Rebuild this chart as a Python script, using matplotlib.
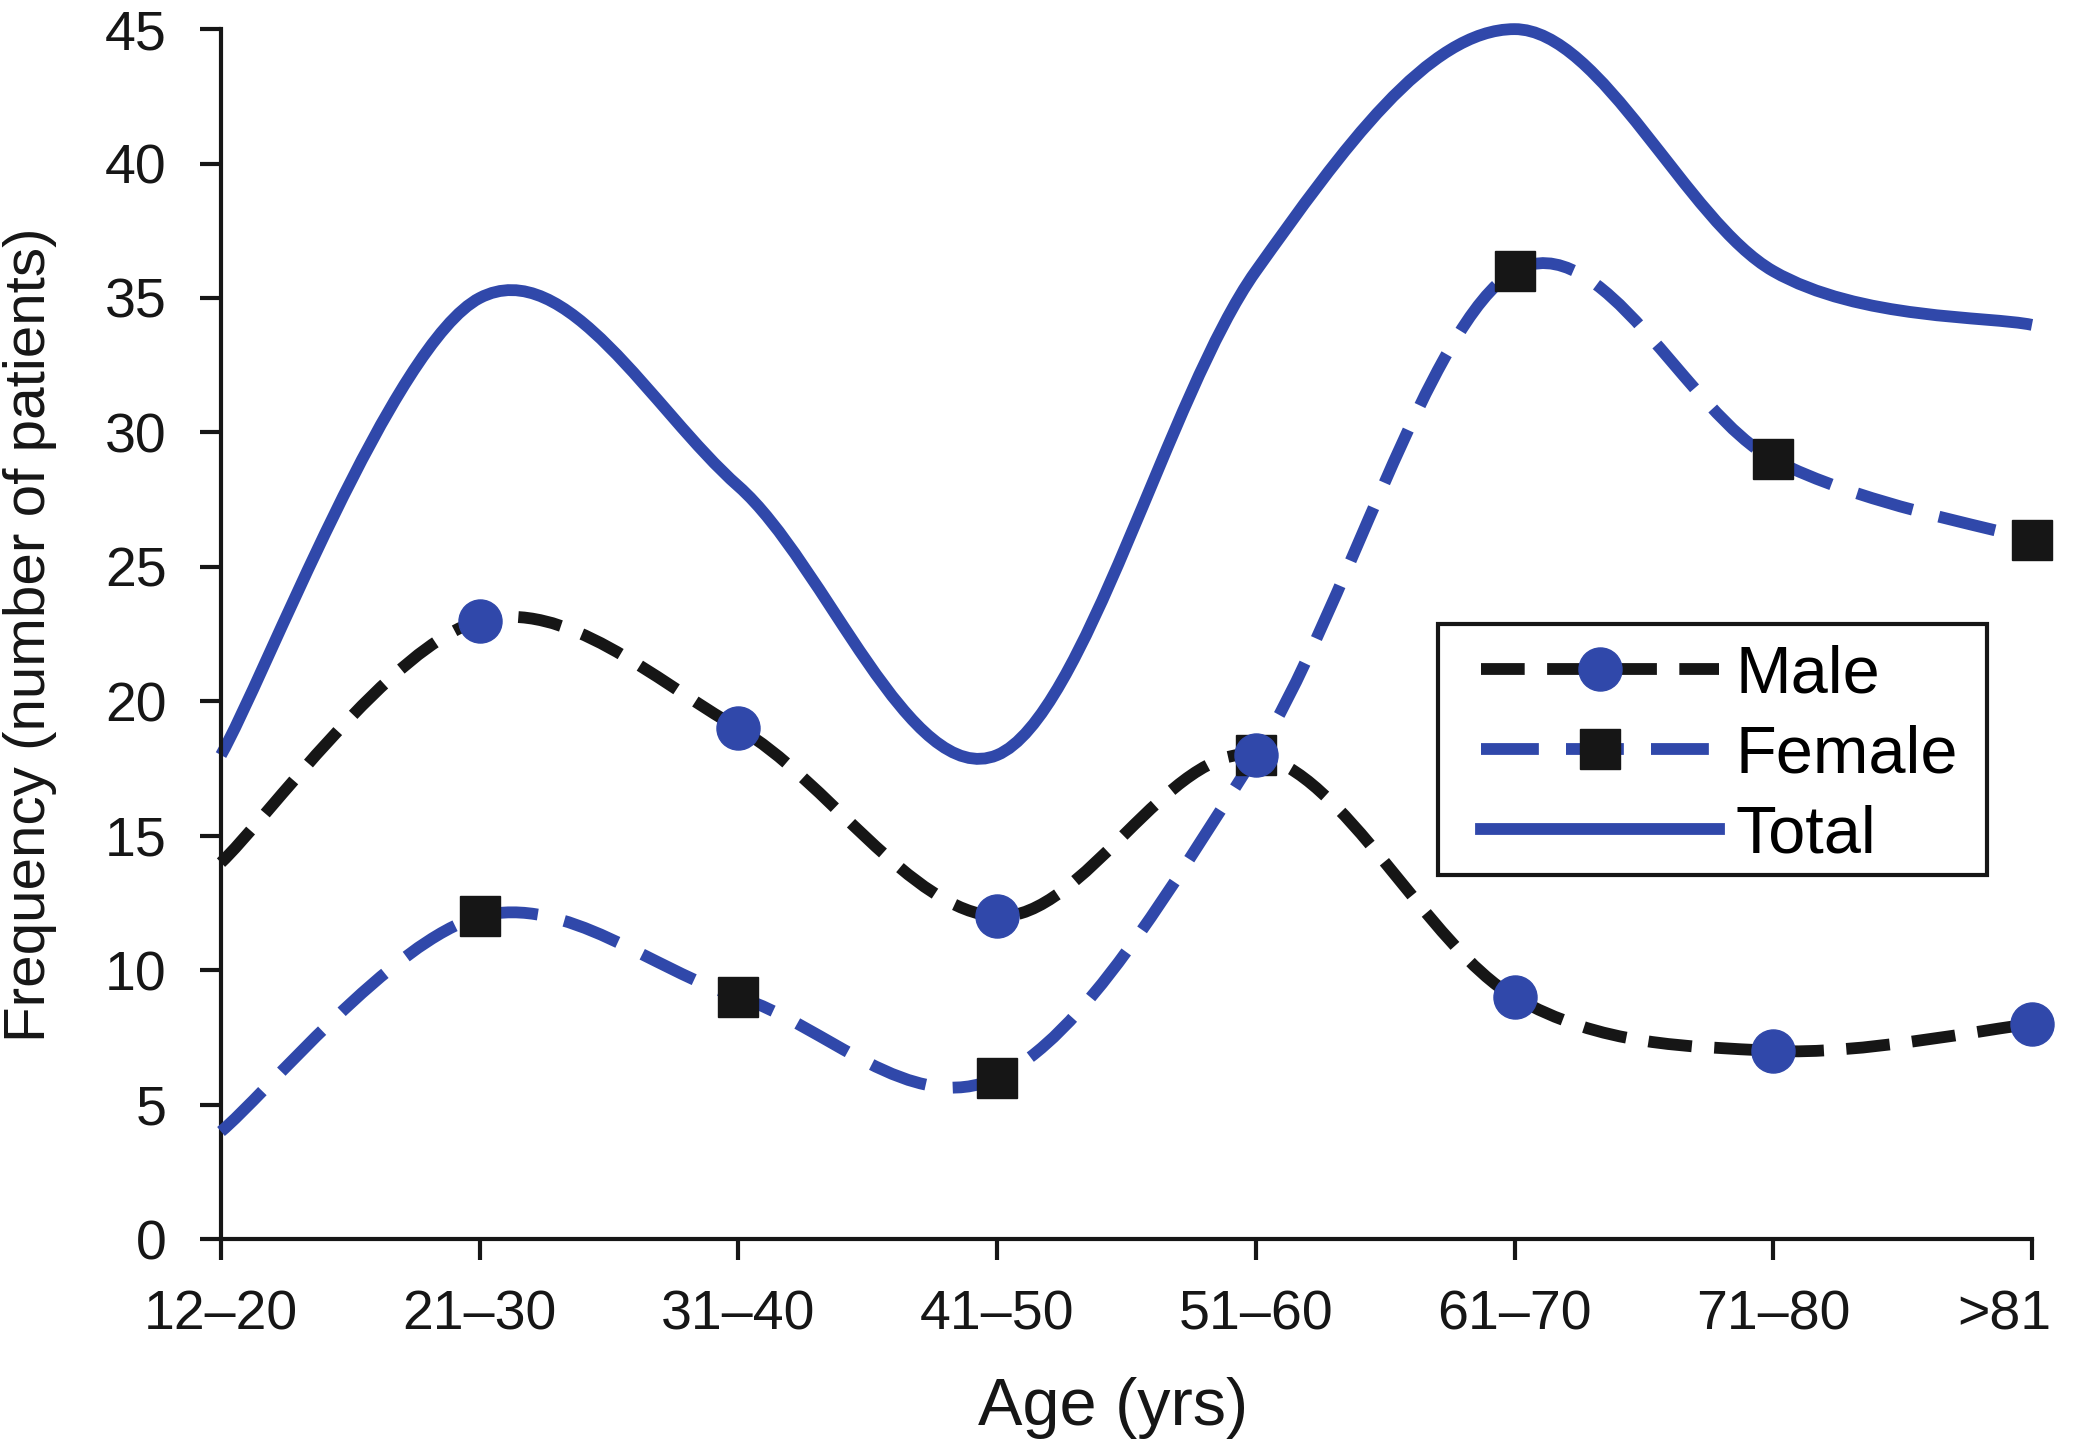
import matplotlib
matplotlib.use("Agg")
import matplotlib.pyplot as plt
import numpy as np
from matplotlib.lines import Line2D
from matplotlib.patches import PathPatch, Rectangle
from matplotlib.path import Path
from matplotlib.transforms import ScaledTranslation

plt.rcParams["font.family"] = ["Liberation Sans", "DejaVu Sans"]

age_groups = ["12\u201320", "21\u201330", "31\u201340", "41\u201350", "51\u201360", "61\u201370", "71\u201380", ">81"]
male = [14, 23, 19, 12, 18, 9, 7, 8]
female = [4, 12, 9, 6, 18, 36, 29, 26]
total = [18, 35, 28, 18, 36, 45, 36, 34]

BLUE = "#3048aa"
BLACK = "#161616"


def smooth_path(y):
    # Catmull-Rom style bezier through the points (like a spreadsheet "smoothed line")
    y = np.asarray(y, dtype=float)
    pts = np.column_stack([np.arange(len(y), dtype=float), y])
    padded = np.vstack([pts[0], pts, pts[-1]])
    verts = [pts[0]]
    codes = [Path.MOVETO]
    for i in range(len(pts) - 1):
        p0, p1, p2, p3 = padded[i], padded[i + 1], padded[i + 2], padded[i + 3]
        verts += [p1 + (p2 - p0) / 6.0, p2 - (p3 - p1) / 6.0, p2]
        codes += [Path.CURVE4] * 3
    return Path(verts, codes)


fig = plt.figure(figsize=(20.73, 14.49), dpi=100)
ax = fig.add_axes([0.1066, 0.1449, 0.8736, 0.835])

lw = 8.5
male_dash = (0, (3.7, 1.9))
female_dash = (0, (4.9, 2.3))

ax.add_patch(PathPatch(smooth_path(total), fill=False, edgecolor=BLUE, lw=lw,
                       capstyle="butt", clip_on=False, zorder=2))
ax.add_patch(PathPatch(smooth_path(female), fill=False, edgecolor=BLUE, lw=lw,
                       linestyle=female_dash, capstyle="butt", clip_on=False, zorder=3))
ax.add_patch(PathPatch(smooth_path(male), fill=False, edgecolor=BLACK, lw=lw,
                       linestyle=male_dash, capstyle="butt", clip_on=False, zorder=3))

xs = np.arange(len(age_groups))
ax.plot(xs[1:], female[1:], "s", ms=29, color=BLACK, mec=BLACK, clip_on=False, zorder=4)
ax.plot(xs[1:], male[1:], "o", ms=31, color=BLUE, mec=BLUE, clip_on=False, zorder=5)

ax.set_xlim(0, len(age_groups) - 1)
ax.set_ylim(0, 45)
ax.set_xticks(xs)
ax.set_xticklabels(age_groups)
ax.set_yticks(np.arange(0, 46, 5))

for side in ["top", "right"]:
    ax.spines[side].set_visible(False)
for side in ["left", "bottom"]:
    ax.spines[side].set_linewidth(3)
    ax.spines[side].set_color(BLACK)
ax.tick_params(axis="both", direction="out", length=15, width=3, colors=BLACK,
               labelsize=40)
ax.tick_params(axis="x", pad=21)
ax.tick_params(axis="y", pad=24)

last = ax.get_xticklabels()[-1]
last.set_transform(last.get_transform() + ScaledTranslation(-0.28, 0, fig.dpi_scale_trans))

fig.text(0.537, 0.0166, "Age (yrs)", fontsize=48, ha="center", va="baseline", color=BLACK)
fig.text(0.0145, 0.562, "Frequency (number of patients)", fontsize=42, rotation=90,
         ha="center", va="center", color=BLACK)

# legend box drawn separately so it can sit exactly where the original one is
fig.patches.append(Rectangle((0.6937, 0.3961), 0.2648, 0.1732, transform=fig.transFigure,
                             fill=True, facecolor="white", edgecolor=BLACK, lw=3, zorder=10))

handles = [
    Line2D([], [], color=BLACK, lw=lw, ls=male_dash, marker="o", ms=31, mfc=BLUE, mec=BLUE),
    Line2D([], [], color=BLUE, lw=lw, ls=female_dash, marker="s", ms=29, mfc=BLACK, mec=BLACK),
    Line2D([], [], color=BLUE, lw=lw),
]
leg = fig.legend(handles, ["Male", "Female", "Total"], loc="upper left",
                 bbox_to_anchor=(0.7144, 0.5555), borderaxespad=0, borderpad=0,
                 fontsize=48, handlelength=3.57, handletextpad=0.25,
                 labelspacing=0.27, numpoints=1, frameon=False)
leg.set_zorder(11)

fig.savefig("out.png", dpi=100)
